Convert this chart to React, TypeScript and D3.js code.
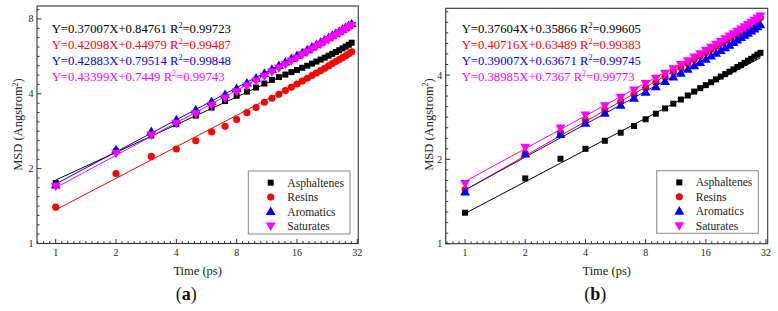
import React from 'react';
import * as d3 from 'd3';

const TIME = [1, 2, 3, 4, 5, 6, 7, 8, 9, 10, 11, 12, 13, 14, 15, 16, 17, 18, 19, 20, 21, 22, 23, 24, 25, 26, 27, 28, 29, 30];
const SERIES_NAMES = ['Asphaltenes', 'Resins', 'Aromatics', 'Saturates'];
const COLORS = ['#000000', '#ff0000', '#0000ff', '#ff00ff'];
const SYMBOLS = ['square', 'circle', 'triangle', 'triangleDown'];

// panel (a)
const A_ASPHALTENES = [1.75, 2.35, 2.72, 3.02, 3.27, 3.52, 3.74, 3.93, 4.08, 4.24, 4.40, 4.55, 4.67, 4.78, 4.89, 4.99, 5.09, 5.19, 5.29, 5.39, 5.49, 5.59, 5.69, 5.79, 5.89, 5.99, 6.09, 6.19, 6.30, 6.42];
const A_RESINS = [1.40, 1.91, 2.24, 2.40, 2.59, 2.81, 2.96, 3.15, 3.36, 3.52, 3.70, 3.84, 3.98, 4.12, 4.25, 4.38, 4.50, 4.62, 4.74, 4.85, 4.96, 5.07, 5.18, 5.29, 5.39, 5.49, 5.59, 5.69, 5.79, 5.90];
const A_AROMATICS = [1.72, 2.38, 2.82, 3.14, 3.45, 3.72, 3.97, 4.20, 4.42, 4.63, 4.83, 5.02, 5.20, 5.37, 5.54, 5.70, 5.85, 6.01, 6.16, 6.31, 6.45, 6.59, 6.73, 6.87, 7.00, 7.13, 7.26, 7.39, 7.52, 7.65];
const A_SATURATES = [1.70, 2.31, 2.73, 3.05, 3.33, 3.60, 3.85, 4.08, 4.30, 4.51, 4.71, 4.90, 5.08, 5.25, 5.42, 5.58, 5.74, 5.90, 6.05, 6.20, 6.34, 6.48, 6.62, 6.76, 6.89, 7.02, 7.15, 7.28, 7.41, 7.54];
const A_SLOPES = [0.37007, 0.42098, 0.42883, 0.43399];
const A_INTERCEPTS = [0.84761, 0.44979, 0.79514, 0.7449];
const A_EQUATIONS = ['Y=0.37007X+0.84761', 'Y=0.42098X+0.44979', 'Y=0.42883X+0.79514', 'Y=0.43399X+0.7449'];
const A_R2 = ['0.99723', '0.99487', '0.99848', '0.99743'];
const A_Y_TICKS = [1, 2, 4, 8];

// panel (b)
const B_ASPHALTENES = [1.29, 1.71, 2.01, 2.18, 2.33, 2.49, 2.63, 2.78, 2.91, 3.04, 3.16, 3.27, 3.38, 3.49, 3.59, 3.68, 3.77, 3.86, 3.95, 4.03, 4.11, 4.19, 4.27, 4.34, 4.42, 4.50, 4.57, 4.65, 4.73, 4.80];
const B_RESINS = [1.56, 2.10, 2.49, 2.76, 3.00, 3.21, 3.41, 3.60, 3.77, 3.94, 4.10, 4.25, 4.40, 4.54, 4.68, 4.81, 4.94, 5.07, 5.19, 5.31, 5.43, 5.55, 5.66, 5.77, 5.88, 5.99, 6.10, 6.21, 6.31, 6.40];
const B_AROMATICS = [1.53, 2.09, 2.45, 2.69, 2.92, 3.12, 3.30, 3.47, 3.63, 3.79, 3.93, 4.06, 4.19, 4.31, 4.43, 4.55, 4.67, 4.78, 4.89, 5.00, 5.11, 5.22, 5.33, 5.44, 5.54, 5.64, 5.74, 5.84, 5.94, 6.04];
const B_SATURATES = [1.64, 2.21, 2.59, 2.88, 3.11, 3.33, 3.54, 3.73, 3.90, 4.06, 4.21, 4.36, 4.50, 4.64, 4.77, 4.90, 5.03, 5.15, 5.27, 5.39, 5.51, 5.62, 5.73, 5.84, 5.95, 6.06, 6.17, 6.28, 6.39, 6.50];
const B_SLOPES = [0.37604, 0.40716, 0.39007, 0.38985];
const B_INTERCEPTS = [0.35866, 0.63489, 0.63671, 0.7367];
const B_EQUATIONS = ['Y=0.37604X+0.35866', 'Y=0.40716X+0.63489', 'Y=0.39007X+0.63671', 'Y=0.38985X+0.7367'];
const B_R2 = ['0.99605', '0.99383', '0.99745', '0.99773'];
const B_Y_TICKS = [1, 2, 4];

const X_TICKS = [1, 2, 4, 8, 16, 32];

const FONT = '"Liberation Serif", "Times New Roman", serif';

const LAYOUT_A = {
  x0: 37, x1: 358.3, y0: 6, y1: 243.5,
  xDomain: [0.8066, 32.37], yDomain: [1, 9.02],
  yTitleX: 18.3, eqX: 51.7,
  legend: { x: 248.3, y: 171, w: 101.7, h: 63, markX: 270.7, textX: 287.3 },
  tag: 'a',
};
const LAYOUT_B = {
  x0: 445.7, x1: 767.7, y0: 8.3, y1: 243.7,
  xDomain: [0.8, 32.63], yDomain: [1, 6.92],
  yTitleX: 428.5, eqX: 461.7,
  legend: { x: 656.7, y: 170.7, w: 101.6, h: 62.6, markX: 679.3, textX: 695.7 },
  tag: 'b',
};

function symbolPath(kind: string) {
  if (kind === 'square') return d3.symbol(d3.symbolSquare, 36)() as string;
  if (kind === 'circle') return d3.symbol(d3.symbolCircle, 40)() as string;
  return d3.symbol(d3.symbolTriangle, 42)() as string;
}

function Marker({ kind, x, y, color }: any) {
  const rot = kind === 'triangleDown' ? ` rotate(180)` : '';
  const dy = kind === 'triangle' ? 0.6 : kind === 'triangleDown' ? -0.6 : 0;
  return <path d={symbolPath(kind)} transform={`translate(${x},${y + dy})${rot}`} fill={color} />;
}

function Panel({ L, series, slopes, intercepts, eqs, r2s, yTicks }: any) {
  const x = d3.scaleLog().base(2).domain(L.xDomain).range([L.x0, L.x1]);
  const y = d3.scaleLog().base(2).domain(L.yDomain).range([L.y1, L.y0]);
  const xMinor: number[] = [];
  for (let k = -1; k <= 5; k++) for (let j = 1; j < 10; j++) {
    const v = Math.pow(2, k + j / 10);
    if (v > L.xDomain[0] && v < L.xDomain[1]) xMinor.push(v);
  }
  const yMinor: number[] = [];
  for (let k = 0; k <= 4; k++) for (let j = 1; j < 8; j++) {
    const v = Math.pow(2, k + j / 8);
    if (v > L.yDomain[0] && v < L.yDomain[1]) yMinor.push(v);
  }
  const cx = (L.x0 + L.x1) / 2;
  const cy = (L.y0 + L.y1) / 2;
  const lineGen = d3.line<number>().x((t) => x(t));
  const lg = L.legend;
  return (
    <g>
      {/* fit lines and points */}
      {series.map((vals: number[], i: number) => {
        const fy = (t: number) => y(Math.pow(2, intercepts[i] + slopes[i] * Math.log2(t)));
        const d = d3.line<number>().x((t) => x(t)).y((t) => fy(t))(TIME) as string;
        return (
          <g key={i}>
            <path d={d} fill="none" stroke={COLORS[i]} strokeWidth={1} />
            {vals.map((v, j) => (
              <Marker key={j} kind={SYMBOLS[i]} x={x(TIME[j])} y={y(v)} color={COLORS[i]} />
            ))}
          </g>
        );
      })}
      {/* frame */}
      <rect x={L.x0} y={L.y0} width={L.x1 - L.x0} height={L.y1 - L.y0} fill="none" stroke="#333" strokeWidth={1.1} />
      {/* x ticks */}
      {X_TICKS.map((t) => (
        <g key={t}>
          <line x1={x(t)} x2={x(t)} y1={L.y1} y2={L.y1 - 4.5} stroke="#333" strokeWidth={1} />
          <text x={x(t)} y={L.y1 + 12.5} textAnchor="middle" fontSize={10} fontFamily={FONT} fill="#222">{t}</text>
        </g>
      ))}
      {xMinor.map((t, i) => (
        <line key={i} x1={x(t)} x2={x(t)} y1={L.y1} y2={L.y1 - 2.5} stroke="#333" strokeWidth={1} />
      ))}
      {/* y ticks */}
      {yTicks.map((v: number) => (
        <g key={v}>
          <line x1={L.x0} x2={L.x0 + 4.5} y1={y(v)} y2={y(v)} stroke="#333" strokeWidth={1} />
          <text x={L.x0 - 3.5} y={y(v) + 3.5} textAnchor="end" fontSize={10} fontFamily={FONT} fill="#222">{v}</text>
        </g>
      ))}
      {yMinor.map((v, i) => (
        <line key={i} x1={L.x0} x2={L.x0 + 2.5} y1={y(v)} y2={y(v)} stroke="#333" strokeWidth={1} />
      ))}
      {/* axis titles */}
      <text x={cx} y={274.5} textAnchor="middle" fontSize={12.5} fontFamily={FONT} fill="#222">Time (ps)</text>
      <text transform={`translate(${L.yTitleX + 4},${124.5}) rotate(-90)`} textAnchor="middle" fontSize={12.5} fontFamily={FONT} fill="#222">
        MSD (Angstrom<tspan dy={-4.5} fontSize={8}>2</tspan><tspan dy={4.5}>)</tspan>
      </text>
      {/* equations */}
      {eqs.map((e: string, i: number) => (
        <text key={i} x={L.eqX} y={32.8 + i * 16.1} fontSize={12.7} fontFamily={FONT} fill={COLORS[i]}>
          {e} R<tspan dy={-5} fontSize={8}>2</tspan><tspan dy={5}>={r2s[i]}</tspan>
        </text>
      ))}
      {/* legend */}
      <rect x={lg.x} y={lg.y} width={lg.w} height={lg.h} fill="#fff" stroke="#888" strokeWidth={1} />
      {SERIES_NAMES.map((n, i) => (
        <g key={n}>
          <Marker kind={SYMBOLS[i]} x={lg.markX} y={lg.y + 11.7 + i * 14.4} color={COLORS[i]} />
          <text x={lg.textX} y={lg.y + 15.7 + i * 14.4} fontSize={11.6} fontFamily={FONT} fill="#222">{n}</text>
        </g>
      ))}
      {/* panel tag */}
      <text x={cx - 11.5} y={300} textAnchor="middle" fontSize={18} fontFamily={FONT} fill="#111">
        (<tspan fontWeight="bold">{L.tag}</tspan>)
      </text>
    </g>
  );
}

export default function App() {
  return (
    <svg width={778} height={311} style={{ position: 'absolute', left: 0, top: 0, background: '#fff' }}>
      <rect x={0} y={0} width={778} height={311} fill="#fff" />
      <Panel L={LAYOUT_A} series={[A_ASPHALTENES, A_RESINS, A_AROMATICS, A_SATURATES]} slopes={A_SLOPES} intercepts={A_INTERCEPTS} eqs={A_EQUATIONS} r2s={A_R2} yTicks={A_Y_TICKS} />
      <Panel L={LAYOUT_B} series={[B_ASPHALTENES, B_RESINS, B_AROMATICS, B_SATURATES]} slopes={B_SLOPES} intercepts={B_INTERCEPTS} eqs={B_EQUATIONS} r2s={B_R2} yTicks={B_Y_TICKS} />
    </svg>
  );
}
